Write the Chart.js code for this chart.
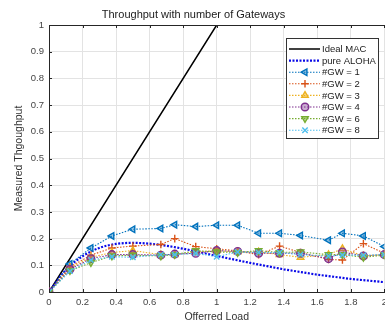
<!DOCTYPE html>
<html>
<head>
<meta charset="utf-8">
<script src="https://cdn.jsdelivr.net/npm/chart.js@4.4.1/dist/chart.umd.min.js"></script>
<style>
    html, body { margin: 0; padding: 0; background: #fff; overflow: hidden; width: 385px; height: 323px; }
    canvas { display: block; }
</style>
</head>
<body>
<canvas id="myChart" width="392" height="323"></canvas>
<script>
// offered load points of the simulation
const loads = [0, 0.125, 0.25, 0.375, 0.5, 0.667, 0.75, 0.875, 1, 1.125, 1.25, 1.375, 1.5, 1.667, 1.75, 1.875, 2];

const gw1 = [0, 0.105, 0.165, 0.21, 0.235, 0.238, 0.252, 0.245, 0.25, 0.25, 0.22, 0.22, 0.212, 0.194, 0.22, 0.21, 0.17];
const gw2 = [0, 0.094, 0.138, 0.165, 0.172, 0.178, 0.2, 0.17, 0.162, 0.154, 0.14, 0.172, 0.148, 0.122, 0.12, 0.181, 0.145];
const gw3 = [0, 0.09, 0.13, 0.148, 0.155, 0.14, 0.14, 0.15, 0.155, 0.15, 0.15, 0.14, 0.13, 0.14, 0.162, 0.135, 0.14];
const gw4 = [0, 0.085, 0.125, 0.14, 0.14, 0.138, 0.142, 0.145, 0.155, 0.152, 0.145, 0.145, 0.145, 0.125, 0.15, 0.135, 0.14];
const gw6 = [0, 0.08, 0.11, 0.135, 0.138, 0.135, 0.14, 0.155, 0.15, 0.148, 0.155, 0.148, 0.15, 0.14, 0.14, 0.13, 0.138];
const gw8 = [0, 0.078, 0.12, 0.132, 0.13, 0.14, 0.14, 0.145, 0.132, 0.15, 0.148, 0.148, 0.14, 0.135, 0.138, 0.138, 0.14];

// reference curves
const idealLoads = [0, 1, 2];
const idealVals = [0, 1, 1];
const alohaLoads = [0, 0.1, 0.2, 0.3, 0.4, 0.5, 0.6, 0.7, 0.8, 0.9, 1, 1.1, 1.2, 1.3, 1.4, 1.5, 1.6, 1.7, 1.8, 1.9, 2];
const alohaVals = [0, 0.082, 0.134, 0.165, 0.18, 0.184, 0.181, 0.173, 0.162, 0.149, 0.135, 0.122, 0.109, 0.097, 0.085, 0.075, 0.065, 0.057, 0.049, 0.043, 0.037];

const xTicks = [0, 0.2, 0.4, 0.6, 0.8, 1, 1.2, 1.4, 1.6, 1.8, 2];
const yTicks = [0, 0.1, 0.2, 0.3, 0.4, 0.5, 0.6, 0.7, 0.8, 0.9, 1];

const pares = (xs, ys) => xs.map((x, i) => ({ x: x, y: ys[i] }));

function serieGW(label, valores, cor, estilo, rot, ordem) {
    return {
        label: label,
        data: pares(loads, valores),
        borderColor: cor,
        backgroundColor: cor + '66',
        borderWidth: 1.1,
        borderDash: [1.5, 1.5],
        pointStyle: estilo,
        rotation: rot,
        pointRadius: 3.8,
        pointBorderWidth: 1.4,
        order: ordem
    };
}

const datasets = [
    {
        label: 'Ideal MAC',
        data: pares(idealLoads, idealVals),
        borderColor: '#000000',
        borderWidth: 1.5,
        pointRadius: 0,
        order: 7
    },
    {
        label: 'pure ALOHA',
        data: pares(alohaLoads, alohaVals),
        borderColor: '#0a0ae8',
        borderWidth: 2.2,
        borderDash: [2, 1.5],
        pointRadius: 0,
        cubicInterpolationMode: 'monotone',
        order: 6
    },
    serieGW('#GW = 1', gw1, '#0072BD', 'triangle', 270, 5),
    serieGW('#GW = 2', gw2, '#D95319', 'cross', 0, 4),
    serieGW('#GW = 3', gw3, '#EDB120', 'triangle', 0, 3),
    serieGW('#GW = 4', gw4, '#7E2F8E', 'circle', 0, 2),
    serieGW('#GW = 6', gw6, '#77AC30', 'triangle', 180, 1),
    serieGW('#GW = 8', gw8, '#4DBEEE', 'crossRot', 0, 0)
];

// moldura de cima, ticks para dentro e legenda dentro do grafico
const moldura = {
    id: 'moldura',
    afterDraw(chart) {
        const ctx = chart.ctx;
        const a = chart.chartArea;
        const sx = chart.scales.x, sy = chart.scales.y;
        ctx.save();
        ctx.strokeStyle = '#262626';
        ctx.lineWidth = 1;
        ctx.beginPath();
        ctx.moveTo(a.left, a.top + 0.5);
        ctx.lineTo(a.right, a.top + 0.5);
        xTicks.forEach(v => {
            const px = Math.round(sx.getPixelForValue(v)) + 0.5;
            ctx.moveTo(px, a.bottom); ctx.lineTo(px, a.bottom - 3);
            ctx.moveTo(px, a.top); ctx.lineTo(px, a.top + 3);
        });
        yTicks.forEach(v => {
            const py = Math.round(sy.getPixelForValue(v)) + 0.5;
            ctx.moveTo(a.left, py); ctx.lineTo(a.left + 3, py);
        });
        ctx.stroke();

        // legenda
        const bx = 286, by = 38, bw = 92, bh = 100;
        ctx.fillStyle = '#ffffff';
        ctx.fillRect(bx, by, bw, bh);
        ctx.strokeStyle = '#333333';
        ctx.strokeRect(bx + 0.5, by + 0.5, bw, bh);
        ctx.font = '9.5px "Liberation Sans", Arial, sans-serif';
        ctx.textBaseline = 'middle';
        chart.data.datasets.forEach((ds, i) => {
            const y = by + 11 + i * 11.6;
            ctx.save();
            ctx.strokeStyle = ds.borderColor;
            ctx.lineWidth = ds.borderWidth;
            ctx.setLineDash(ds.borderDash || []);
            ctx.beginPath();
            ctx.moveTo(bx + 3, y);
            ctx.lineTo(bx + 34, y);
            ctx.stroke();
            ctx.restore();
            if (ds.pointRadius > 0) {
                ctx.save();
                ctx.strokeStyle = ds.borderColor;
                ctx.fillStyle = ds.backgroundColor;
                ctx.lineWidth = ds.pointBorderWidth;
                Chart.helpers.drawPoint(ctx, {
                    pointStyle: ds.pointStyle,
                    rotation: ds.rotation,
                    radius: ds.pointRadius,
                    borderWidth: ds.pointBorderWidth
                }, bx + 19, y);
                ctx.restore();
            }
            ctx.fillStyle = '#1a1a1a';
            ctx.fillText(ds.label, bx + 36, y + 0.5);
        });
        ctx.restore();
    }
};

const fmt = v => String(Math.round(v * 10) / 10);

new Chart(document.getElementById('myChart'), {
    type: 'line',
    data: { datasets: datasets },
    options: {
        responsive: false,
        devicePixelRatio: 1,
        animation: false,
        layout: { padding: { left: 0, right: 5, top: 0, bottom: 0 } },
        plugins: {
            legend: { display: false },
            tooltip: { enabled: false },
            title: {
                display: true,
                text: 'Throughput with number of Gateways',
                color: '#1a1a1a',
                font: { family: '"Liberation Sans", Arial, sans-serif', size: 11, weight: 'normal' },
                padding: { top: 8, bottom: 3.8 }
            }
        },
        scales: {
            x: {
                type: 'linear',
                min: 0,
                max: 2,
                afterFit: s => { s.height = 31; },
                afterBuildTicks: s => { s.ticks = xTicks.map(v => ({ value: v })); },
                grid: { color: '#e3e3e3', drawTicks: false },
                border: { color: '#262626' },
                ticks: {
                    padding: 5,
                    maxRotation: 0,
                    color: '#444',
                    font: { family: '"Liberation Sans", Arial, sans-serif', size: 9.5 },
                    callback: fmt
                },
                title: {
                    display: true,
                    text: 'Offerred Load',
                    color: '#333',
                    font: { family: '"Liberation Sans", Arial, sans-serif', size: 10.5 },
                    padding: { top: 0, bottom: 0 }
                }
            },
            y: {
                min: 0,
                max: 1,
                afterFit: s => { s.width = 49; },
                afterBuildTicks: s => { s.ticks = yTicks.map(v => ({ value: v })); },
                grid: { color: '#e3e3e3', drawTicks: false },
                border: { color: '#262626' },
                ticks: {
                    padding: 5,
                    color: '#444',
                    font: { family: '"Liberation Sans", Arial, sans-serif', size: 9.5 },
                    callback: fmt
                },
                title: {
                    display: true,
                    text: 'Measured Thgoughput',
                    color: '#333',
                    font: { family: '"Liberation Sans", Arial, sans-serif', size: 10.5 },
                    padding: { top: 12.7, bottom: 0 }
                }
            }
        }
    },
    plugins: [moldura]
});
</script>
</body>
</html>
